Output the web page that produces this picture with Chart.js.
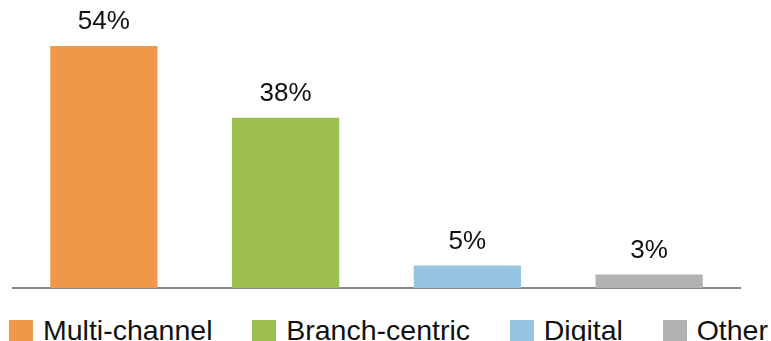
<!DOCTYPE html>
<html>
<head>
<meta charset="utf-8">
<script src="https://cdn.jsdelivr.net/npm/chart.js@4/dist/chart.umd.min.js"></script>
<style>
  html, body { margin: 0; padding: 0; background: #fff; }
  #wrap { position: relative; width: 771px; height: 341px; overflow: hidden; font-family: "Liberation Sans", Arial, sans-serif; }
  #box { position: absolute; left: 0; top: 0; width: 771px; height: 300px; }
  #legend { position: absolute; left: 9px; right: 3px; top: 314px; display: flex; justify-content: space-between; align-items: center; }
  .item { display: flex; align-items: center; gap: 10px; font-size: 28.5px; color: #111; line-height: 32px; white-space: nowrap; }
  .sw { width: 24px; height: 21px; }
</style>
</head>
<body>
<div id="wrap">
  <div id="box"><canvas id="bars"></canvas></div>
  <div id="legend"></div>
</div>
<script>
// Kênh giao dịch ưa thích (%)
const categories = ['Multi-channel', 'Branch-centric', 'Digital', 'Other'];
const shares = [54, 38, 5, 3];
const colors = ['#F0974A', '#9DBF50', '#95C5E1', '#B2B2B2'];

// Nhãn % phía trên mỗi cột
const valueLabels = {
  id: 'valueLabels',
  afterDatasetsDraw(chart) {
    const ctx = chart.ctx;
    const meta = chart.getDatasetMeta(0);
    ctx.save();
    ctx.font = '26px "Liberation Sans", Arial, sans-serif';
    ctx.fillStyle = '#111';
    ctx.textAlign = 'center';
    ctx.textBaseline = 'alphabetic';
    meta.data.forEach((bar, i) => {
      ctx.fillText(shares[i] + '%', bar.x, bar.y - 17);
    });
    ctx.restore();
  }
};

new Chart(document.getElementById('bars'), {
  type: 'bar',
  data: {
    labels: categories,
    datasets: [{
      data: shares,
      backgroundColor: colors,
      borderWidth: 0,
      categoryPercentage: 1,
      barPercentage: 0.59
    }]
  },
  options: {
    responsive: true,
    maintainAspectRatio: false,
    animation: false,
    layout: { padding: { top: 46, bottom: 12, left: 13, right: 31 } },
    plugins: {
      legend: { display: false },
      tooltip: { enabled: false }
    },
    scales: {
      x: {
        grid: { display: false, drawTicks: false },
        ticks: { display: false },
        border: { display: true, color: '#878787', width: 2 }
      },
      y: {
        display: false,
        min: 0,
        max: 54
      }
    }
  },
  plugins: [valueLabels]
});

// Chú thích dạng HTML bên dưới biểu đồ
document.getElementById('legend').innerHTML = categories.map((c, i) => `
  <div class="item"><span class="sw" style="background:${colors[i]}"></span><span>${c}</span></div>
`).join('');
</script>
</body>
</html>
